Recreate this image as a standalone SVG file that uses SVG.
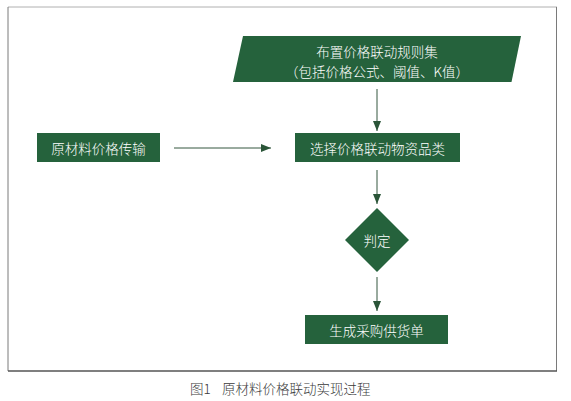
<svg xmlns="http://www.w3.org/2000/svg" width="571" height="401" viewBox="0 0 571 401">
<defs>
<style>
.node{fill:#25623c;}
.lbl{fill:#ffffff;font-family:"Noto Sans CJK SC","Noto Sans",sans-serif;font-size:13.5px;font-weight:300;text-anchor:middle;dominant-baseline:central;}
.conn{stroke:#34563f;stroke-width:1;fill:none;marker-end:url(#ah);}
.cap{fill:#3a3a3a;font-family:"Noto Sans CJK SC","Noto Sans",sans-serif;font-size:13.5px;font-weight:300;dominant-baseline:central;}
</style>
<marker id="ah" viewBox="0 0 10 10" refX="10" refY="5" markerWidth="10" markerHeight="10" markerUnits="userSpaceOnUse" orient="auto">
<path d="M0,1 L10,5 L0,9 Z" fill="#2a5538"/>
</marker>
</defs>
<rect width="571" height="401" fill="#ffffff"/>
<g id="frame">
<line x1="8" y1="7" x2="557" y2="7" stroke="#b0b0b0" stroke-width="1"/>
<line x1="8" y1="7" x2="8" y2="371" stroke="#7a7a7a" stroke-width="1"/>
<line x1="556.5" y1="7" x2="556.5" y2="371" stroke="#7a7a7a" stroke-width="1"/>
<line x1="8" y1="371" x2="557" y2="371" stroke="#555555" stroke-width="1.5"/>
</g>
<g id="connectors">
<line class="conn" x1="377" y1="89" x2="377" y2="131"/>
<line class="conn" x1="174" y1="148" x2="271" y2="148"/>
<line class="conn" x1="377" y1="170" x2="377" y2="204"/>
<line class="conn" x1="377" y1="277" x2="377" y2="311"/>
</g>
<g id="rules">
<polygon class="node" points="243,36 521,36 511.5,82 233,82"/>
<text class="lbl" x="377" y="51">布置价格联动规则集</text>
<text class="lbl" x="377" y="71">（包括价格公式、阈值、K值）</text>
</g>
<g id="raw">
<rect class="node" x="37" y="133" width="123" height="29"/>
<text class="lbl" x="98.5" y="147.5">原材料价格传输</text>
</g>
<g id="select">
<rect class="node" x="295" y="133" width="165" height="29"/>
<text class="lbl" x="377.5" y="147.5">选择价格联动物资品类</text>
</g>
<g id="judge">
<polygon class="node" points="377,208 409,240 377,272 345,240"/>
<text class="lbl" x="377" y="240">判定</text>
</g>
<g id="order">
<rect class="node" x="305" y="315" width="143" height="29"/>
<text class="lbl" x="376.5" y="329.5">生成采购供货单</text>
</g>
<text class="cap" y="388"><tspan x="190">图1</tspan><tspan x="222">原材料价格联动实现过程</tspan></text>
</svg>
